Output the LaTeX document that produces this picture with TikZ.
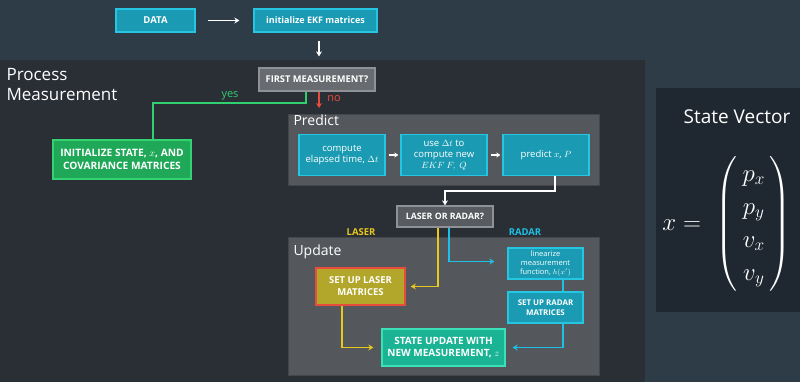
\documentclass[tikz,border=0pt]{standalone}
\usepackage{amsmath}
\usepackage{fontspec}
\setmainfont{Open Sans}
\usetikzlibrary{arrows.meta}
\definecolor{topbg}{HTML}{2E3C48}
\definecolor{procbg}{HTML}{2A2E35}
\definecolor{statebg}{HTML}{1F2830}
\definecolor{panelgray}{HTML}{54585C}
\definecolor{tealfill}{HTML}{1A9BB3}
\definecolor{tealedge}{HTML}{26C6E2}
\definecolor{qfill}{HTML}{686B70}
\definecolor{qedge}{HTML}{8E9195}
\definecolor{greenfill}{HTML}{1FA858}
\definecolor{greenedge}{HTML}{35D274}
\definecolor{olivefill}{HTML}{B3A72B}
\definecolor{rededge}{HTML}{E84C3D}
\definecolor{updfill}{HTML}{1AB394}
\definecolor{updedge}{HTML}{3AE0B8}
\definecolor{yelline}{HTML}{E8C81E}
\definecolor{cyline}{HTML}{1EC0E6}
\definecolor{grline}{HTML}{2ED070}
\begin{document}
\begin{tikzpicture}[x=1pt, y=-1pt, >={Stealth[length=5pt,width=6pt]},
  box/.style={draw=tealedge, fill=tealfill, line width=1.3pt, text=white, align=center,
    inner sep=0pt, font=\fontsize{9.5}{11.5}\selectfont},
  capbox/.style={box, font=\fontsize{9.5}{12}\selectfont\bfseries},
  qbox/.style={capbox, draw=qedge, fill=qfill},
  panel/.style={fill=panelgray, draw=panelgray!80!black, line width=0.6pt, anchor=north west, inner sep=0pt},
  paneltitle/.style={anchor=north west, text=white, font=\fontsize{14}{16}\selectfont},
  wharrow/.style={->, white, line width=1.5pt},
  colline/.style={line width=1.5pt}]

  % backgrounds
  \fill[topbg] (0,0) rectangle (800,382);
  \fill[procbg] (0,60) rectangle (645,382);
  \fill[statebg] (656,88) rectangle (800,312);
  \node[anchor=north west, align=left, text=white, font=\fontsize{17}{20}\selectfont] (proctitle) at (3,65) {Process\\Measurement};

  % top row
  \node[capbox, minimum width=79, minimum height=23] (data) at (155.5,20.5) {DATA};
  \node[box, font=\fontsize{9}{11}\selectfont\bfseries, minimum width=123, minimum height=23] (init) at (315.5,20.5) {initialize EKF matrices};
  \draw[wharrow, shorten <=12pt, shorten >=14pt] (data) -- (init);

  \node[qbox, font=\fontsize{9.3}{11}\selectfont\bfseries, minimum width=116, minimum height=23] (first) at (317,79.5) {FIRST MEASUREMENT?};
  \draw[wharrow, shorten <=8pt, shorten >=11pt] ([xshift=2pt]init.south -| first.north) -- ([xshift=2pt]first.north);

  % yes branch
  \node[capbox, draw=greenedge, fill=greenfill, font=\fontsize{10.2}{12.5}\selectfont\bfseries, minimum width=138, minimum height=39] (initstate) at (122,159.5) {INITIALIZE STATE, $x$, AND\\COVARIANCE MATRICES};
  \coordinate (yesbend) at (153,103);
  \draw[colline, grline] ([xshift=-11pt]first.south) |- (yesbend) -- (yesbend |- initstate.north);
  \node[text=grline, font=\fontsize{11}{13}\selectfont] (yes) at (230,96) {yes};

  % predict
  \node[panel, minimum width=311, minimum height=71] (predictpanel) at (288,114) {};
  \node[paneltitle] (predicttitle) at (290,111) {Predict};
  \draw[->, colline, rededge, shorten >=6pt] ([xshift=2pt]first.south) -- ([xshift=2pt]first.south |- predictpanel.north);
  \node[text=rededge, font=\fontsize{11}{13}\selectfont] (no) at (334,99) {no};

  \node[box, minimum width=86, minimum height=41] (elapsed) at (342,155) {compute\\elapsed time, $\Delta t$};
  \node[box, font=\fontsize{9.5}{11}\selectfont, minimum width=86, minimum height=41] (usedt) at (444,155) {use $\Delta t$ to\\compute new\\$EKF\ F,\ Q$};
  \node[box, minimum width=86, minimum height=41] (predx) at (546,155) {predict $x$, $P$};
  \foreach \a/\b in {elapsed/usedt, usedt/predx}
    \draw[wharrow, >={Stealth[length=4pt,width=5pt]}, shorten <=3pt, shorten >=2pt] (\a) -- (\b);

  \node[qbox, fill=qfill!85!black, font=\fontsize{8.8}{10}\selectfont\bfseries, minimum width=96, minimum height=21] (laserradar) at (445,216.5) {LASER OR RADAR?};
  \draw[wharrow] ([xshift=9pt]predx.south) -- ++(0,15) -| (laserradar.north);

  % update
  \node[panel, minimum width=311, minimum height=138] (updatepanel) at (288,237) {};
  \node[paneltitle] (updatetitle) at (290,241) {Update};
  \node[text=yelline, font=\fontsize{9.5}{11}\selectfont\bfseries] (lasertxt) at (361,232) {LASER};
  \node[text=cyline, font=\fontsize{9.5}{11}\selectfont\bfseries] (radartxt) at (525,232) {RADAR};

  \node[capbox, draw=rededge, fill=olivefill, line width=1.6pt, minimum width=89, minimum height=37] (laser) at (360.5,286.5) {SET UP LASER\\MATRICES};
  \node[box, font=\fontsize{7.5}{9}\selectfont, minimum width=75, minimum height=31] (linearize) at (545.5,263.5) {linearize\\measurement\\function, $h(x')$};
  \node[capbox, font=\fontsize{7.9}{10}\selectfont\bfseries, minimum width=75, minimum height=31] (radar) at (545.5,307.5) {SET UP RADAR\\MATRICES};
  \node[capbox, draw=updedge, fill=updfill, font=\fontsize{10}{12.5}\selectfont\bfseries, minimum width=123, minimum height=37] (stateupd) at (443.5,347.5) {STATE UPDATE WITH\\NEW MEASUREMENT, $z$};

  \draw[->, colline, yelline, shorten >=5pt] ([xshift=-7pt]laserradar.south) |- (laser.east);
  \draw[->, colline, cyline, shorten >=13pt] ([xshift=4pt]laserradar.south) |- ([yshift=2pt]linearize.west);
  \draw[colline, cyline] ([xshift=17.5pt]linearize.south) -- ([xshift=17.5pt]radar.north);
  \draw[->, colline, cyline, shorten >=7pt] ([xshift=17.5pt]radar.south) |- (stateupd.east);
  \draw[->, colline, yelline, shorten >=8pt] ([xshift=-18.5pt]laser.south) |- (stateupd.west);

  % state vector
  \node[text=white, font=\fontsize{19}{22}\selectfont] (svtitle) at (737,117) {State Vector};
  \node[text=white, font=\fontsize{26}{33}\selectfont] (svec) at (727,224) {$x = \hspace{8pt}\begin{pmatrix} \hspace{5pt}p_x\hspace{5pt}\\ p_y\\ v_x\\ v_y \end{pmatrix}$};
\end{tikzpicture}
\end{document}
